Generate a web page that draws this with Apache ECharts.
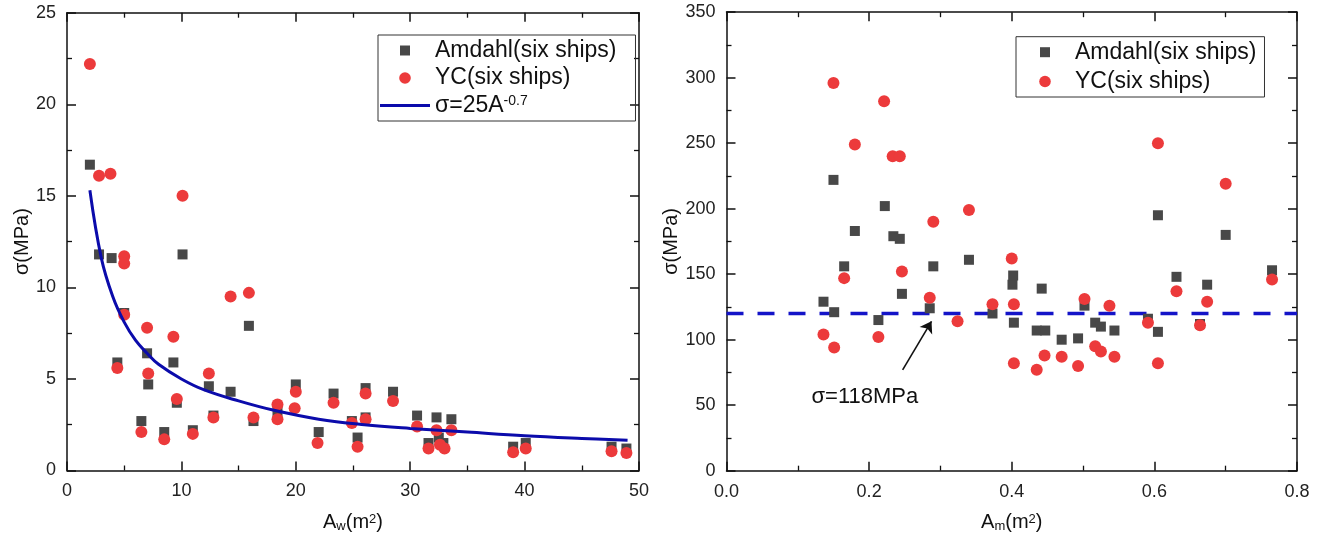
<!DOCTYPE html>
<html>
<head>
<meta charset="utf-8">
<script src="https://cdn.jsdelivr.net/npm/echarts@6/dist/echarts.min.js"></script>
<style>html,body{margin:0;padding:0;background:#fff}#c{width:1339px;height:551px}</style>
</head>
<body>
<div id="c"></div>
<script>
// ---------- Left panel: sigma vs A_w ----------
const amdahlW_A = [2.0,2.8,3.9,5.0,4.4,7.0,7.1,6.5,8.5,9.3,9.6,10.1,11.0,12.4,12.8,14.3,15.9,16.3,18.4,20.0,22.0,23.3,24.9,25.4,26.1,26.1,28.5,30.6,31.6,32.3,32.5,32.9,33.6,39.0,40.1,47.6,48.9];
const amdahlW_S = [16.7,11.8,11.6,8.6,5.9,6.4,4.7,2.7,2.1,5.9,3.7,11.8,2.2,4.6,3.0,4.3,7.9,2.7,3.2,4.7,2.1,4.2,2.7,1.8,4.5,2.9,4.3,3.0,1.5,2.9,1.8,1.5,2.8,1.3,1.5,1.3,1.2];
const ycW_A = [2.0,2.8,3.8,5.0,5.0,5.0,4.4,7.0,7.1,6.5,8.5,9.3,9.6,10.1,11.0,12.4,12.8,14.3,15.9,16.3,18.4,18.4,19.9,20.0,21.9,23.3,24.9,25.4,26.1,26.1,28.5,30.6,31.6,32.3,32.6,33.0,33.6,39.0,40.1,47.6,48.9];
const ycW_S = [22.2,16.1,16.2,11.7,11.3,8.5,5.6,7.8,5.3,2.1,1.7,7.3,3.9,15.0,2.0,5.3,2.9,9.5,9.7,2.9,3.6,2.8,3.4,4.3,1.5,3.7,2.6,1.3,4.2,2.8,3.8,2.4,1.2,2.2,1.4,1.2,2.2,1.0,1.2,1.05,0.95];
// fitted curve sigma = 25 A^-0.7
const fitA = [2,3,4,5,6,7,8,10,12,15,18,22,26,30,35,40,45,49];
const fitS = [15.3,11.6,9.5,8.1,7.1,6.4,5.8,5.0,4.4,3.8,3.3,2.8,2.5,2.3,2.1,1.9,1.75,1.65];

// ---------- Right panel: sigma vs A_m ----------
const amdahlM_A = [0.136,0.151,0.150,0.165,0.180,0.213,0.222,0.234,0.243,0.246,0.285,0.290,0.340,0.373,0.401,0.402,0.403,0.435,0.442,0.447,0.470,0.493,0.502,0.517,0.525,0.544,0.591,0.605,0.605,0.631,0.664,0.674,0.700,0.765];
const amdahlM_S = [129,121,222,156,183,115,202,179,177,135,124,156,161,120,142,149,113,107,139,107,100,101,126,113,110,107,116,106,195,148,112,142,180,153];
const ycM_A = [0.136,0.150,0.151,0.165,0.180,0.213,0.221,0.233,0.243,0.246,0.285,0.290,0.324,0.340,0.373,0.400,0.403,0.403,0.435,0.446,0.470,0.493,0.502,0.517,0.525,0.537,0.544,0.591,0.605,0.605,0.631,0.664,0.674,0.700,0.765];
const ycM_S = [104,296,94,147,249,102,282,240,240,152,132,190,114,199,127,162,127,82,77,88,87,80,131,95,91,126,87,113,250,82,137,111,129,219,146];
const refLineA = [0, 0.8];
const refLineS = [120, 120];
const arrowFrom = [0.247, 77];
const arrowTo = [0.2875, 114];
const noteAt = [0.194, 56];
const noteText = 'σ=118MPa';

// ---------- Axes ----------
const leftX = {min: 0, max: 50, interval: 10};
const leftY = {min: 0, max: 25, interval: 5};
const rightX = {min: 0, max: 0.8, interval: 0.2};
const rightY = {min: 0, max: 350, interval: 50};

const names = ['Amdahl(six ships)', 'YC(six ships)', 'σ=25A^-0.7'];

const zip = (a, b) => a.map((v, i) => [v, b[i]]);
const FONT = "'Liberation Sans', Arial, sans-serif";
const NARROW = "'Liberation Sans Narrow', 'Arial Narrow', 'Liberation Sans', Arial, sans-serif";
const SQ = '#484848', RED = '#ec3a3b', BLUE = '#0b0bab', DASH = '#1414c8';

function axisBase(r, extra) {
  return Object.assign({
    type: 'value', min: r.min, max: r.max, interval: r.interval,
    splitLine: {show: false},
    axisLine: {show: true, onZero: false, lineStyle: {color: '#111', width: 1.5}},
    axisTick: {show: true, inside: true, length: 9, lineStyle: {color: '#111', width: 1.5}},
    minorTick: {show: true, splitNumber: 2, length: 5, lineStyle: {color: '#111', width: 1.3}},
    minorSplitLine: {show: false}
  }, extra);
}
const subsup = {
  sub: {fontSize: 13, verticalAlign: 'bottom', fontFamily: FONT, color: '#111'},
  sup: {fontSize: 13, verticalAlign: 'top', fontFamily: FONT, color: '#111'}
};
function xMain(r, gi, name, fmt) {
  return axisBase(r, {
    gridIndex: gi, position: 'bottom',
    name: name, nameLocation: 'middle', nameGap: 42,
    nameTextStyle: {fontSize: 20, fontFamily: FONT, color: '#111', rich: subsup},
    axisLabel: {margin: 12, fontSize: 18, fontFamily: NARROW, color: '#222', formatter: fmt}
  });
}
function yMain(r, gi, gap) {
  return axisBase(r, {
    gridIndex: gi, position: 'left',
    name: 'σ(MPa)', nameLocation: 'middle', nameGap: gap,
    nameTextStyle: {fontSize: 20, fontFamily: FONT, color: '#111'},
    axisLabel: {margin: 11, fontSize: 18, fontFamily: FONT, color: '#222'}
  });
}
function mirror(r, gi, pos) {
  return axisBase(r, {gridIndex: gi, position: pos, axisLabel: {show: false}});
}

const sqIcon = 'path://M0,0M50,14M20,2h10v10h-10z';
const ciIcon = 'path://M0,0M50,14M30.8,7A5.8,5.8,0,1,1,19.2,7A5.8,5.8,0,1,1,30.8,7Z';
const lnIcon = 'path://M0,0M50,14M0,5.5h50v3h-50z';

const chart = echarts.init(document.getElementById('c'), null, {renderer: 'canvas'});
chart.setOption({
  animation: false,
  backgroundColor: '#fff',
  grid: [
    {left: 67, top: 12.7, width: 572, height: 457.8},
    {left: 726.5, top: 12.2, width: 570.5, height: 458.5}
  ],
  xAxis: [
    xMain(leftX, 0, 'A{sub|w}(m{sup|2})'),
    mirror(leftX, 0, 'top'),
    xMain(rightX, 1, 'A{sub|m}(m{sup|2})', v => v.toFixed(1)),
    mirror(rightX, 1, 'top')
  ],
  yAxis: [
    yMain(leftY, 0, 27),
    mirror(leftY, 0, 'right'),
    yMain(rightY, 1, 27),
    mirror(rightY, 1, 'right')
  ],
  legend: [
    {
      left: 378, top: 35, orient: 'vertical', selectedMode: false,
      borderColor: '#333', borderWidth: 1, borderRadius: 0,
      padding: [4, 19, 4, 2], itemGap: 4.5, itemWidth: 50, itemHeight: 14,
      textStyle: {fontSize: 23, fontFamily: FONT, color: '#111',
        rich: {sup: {fontSize: 14, verticalAlign: 'top', fontFamily: FONT, color: '#111'}}},
      formatter: n => n === names[2] ? 'σ=25A{sup|-0.7}' : n,
      data: [{name: names[0], icon: sqIcon}, {name: names[1], icon: ciIcon}, {name: names[2], icon: lnIcon}]
    },
    {
      left: 1016, top: 36.7, orient: 'vertical', selectedMode: false,
      borderColor: '#333', borderWidth: 1, borderRadius: 0,
      padding: [4, 8, 4, 4], itemGap: 6.3, itemWidth: 50, itemHeight: 14,
      textStyle: {fontSize: 23, fontFamily: FONT, color: '#111'},
      data: [{name: names[0], icon: sqIcon}, {name: names[1], icon: ciIcon}]
    }
  ],
  series: [
    {name: names[0], type: 'scatter', xAxisIndex: 0, yAxisIndex: 0, symbol: 'rect', symbolSize: 10,
      itemStyle: {color: SQ, opacity: 1}, data: zip(amdahlW_A, amdahlW_S), z: 2},
    {name: names[1], type: 'scatter', xAxisIndex: 0, yAxisIndex: 0, symbol: 'circle', symbolSize: 12,
      itemStyle: {color: RED, opacity: 1}, data: zip(ycW_A, ycW_S), z: 3},
    {name: names[2], type: 'line', xAxisIndex: 0, yAxisIndex: 0, smooth: 0.4, showSymbol: false, symbol: 'none',
      itemStyle: {color: BLUE}, lineStyle: {color: BLUE, width: 3}, data: zip(fitA, fitS), z: 4},

    {name: 'ref', type: 'line', xAxisIndex: 2, yAxisIndex: 2, showSymbol: false, symbol: 'none',
      lineStyle: {color: DASH, width: 3.5, type: [17, 14]}, data: zip(refLineA, refLineS), z: 1,
      markLine: {
        silent: true, symbol: ['none', 'arrow'], symbolSize: 11,
        lineStyle: {color: '#111', width: 1.6, type: 'solid'}, label: {show: false},
        data: [[{coord: arrowFrom}, {coord: arrowTo}]]
      },
      markPoint: {
        silent: true, symbol: 'circle', symbolSize: 1, itemStyle: {color: 'rgba(0,0,0,0)'},
        label: {show: true, position: 'inside', formatter: noteText, fontSize: 22, fontFamily: FONT, color: '#111'},
        data: [{coord: noteAt}]
      }
    },
    {name: names[0], type: 'scatter', xAxisIndex: 2, yAxisIndex: 2, symbol: 'rect', symbolSize: 10,
      itemStyle: {color: SQ, opacity: 1}, data: zip(amdahlM_A, amdahlM_S), z: 2},
    {name: names[1], type: 'scatter', xAxisIndex: 2, yAxisIndex: 2, symbol: 'circle', symbolSize: 12,
      itemStyle: {color: RED, opacity: 1}, data: zip(ycM_A, ycM_S), z: 3}
  ]
});
</script>
</body>
</html>
